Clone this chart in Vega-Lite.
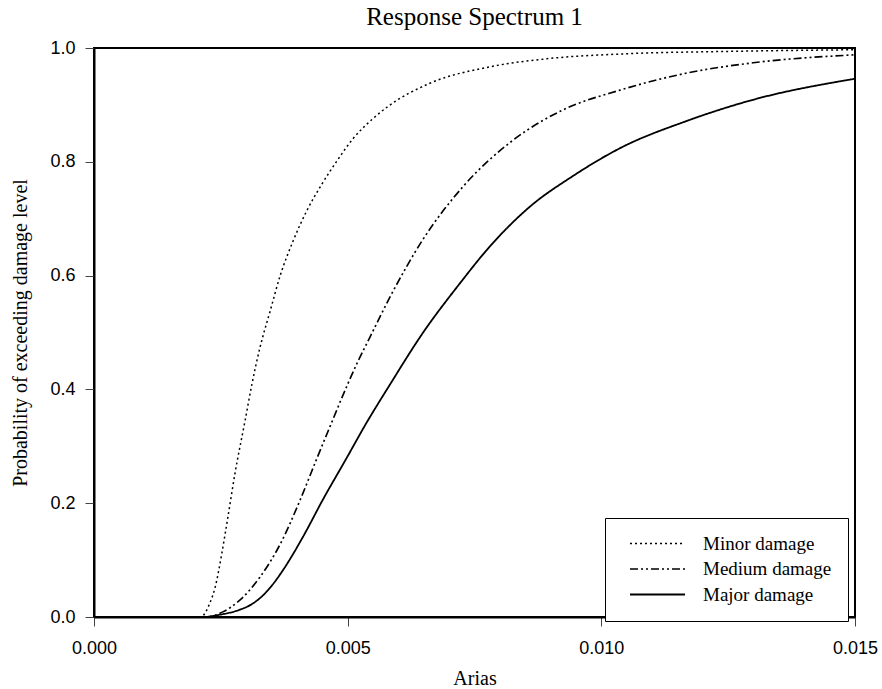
{
  "$schema": "https://vega.github.io/schema/vega-lite/v6.json",
  "autosize": "none",
  "width": 761,
  "height": 569,
  "padding": {"left": 94, "top": 48, "right": 27, "bottom": 72},
  "background": "white",
  "title": {
    "text": "Response Spectrum 1",
    "font": "Liberation Serif",
    "fontSize": 25,
    "fontWeight": "normal",
    "color": "black",
    "anchor": "middle",
    "frame": "group",
    "offset": 9
  },
  "config": {
    "view": {"stroke": "black", "strokeWidth": 2},
    "axis": {
      "grid": false,
      "domainColor": "black",
      "domainWidth": 2,
      "tickColor": "#444",
      "tickWidth": 1,
      "tickSize": 9,
      "labelFont": "Liberation Sans",
      "labelFontSize": 18,
      "labelColor": "black",
      "titleFont": "Liberation Serif",
      "titleFontSize": 20,
      "titleFontWeight": "normal",
      "titleColor": "black"
    }
  },
  "data": {
    "values": [
      {"series": "Minor damage", "x": 0, "y": 0},
      {"series": "Minor damage", "x": 0.001, "y": 0},
      {"series": "Minor damage", "x": 0.0021, "y": 0},
      {"series": "Minor damage", "x": 0.00229, "y": 0.026},
      {"series": "Minor damage", "x": 0.00239, "y": 0.053},
      {"series": "Minor damage", "x": 0.00252, "y": 0.112},
      {"series": "Minor damage", "x": 0.00264, "y": 0.176},
      {"series": "Minor damage", "x": 0.00278, "y": 0.253},
      {"series": "Minor damage", "x": 0.00298, "y": 0.346},
      {"series": "Minor damage", "x": 0.00311, "y": 0.408},
      {"series": "Minor damage", "x": 0.00327, "y": 0.473},
      {"series": "Minor damage", "x": 0.00347, "y": 0.537},
      {"series": "Minor damage", "x": 0.00367, "y": 0.600},
      {"series": "Minor damage", "x": 0.00393, "y": 0.662},
      {"series": "Minor damage", "x": 0.0042, "y": 0.715},
      {"series": "Minor damage", "x": 0.0045, "y": 0.762},
      {"series": "Minor damage", "x": 0.0048, "y": 0.803},
      {"series": "Minor damage", "x": 0.0051, "y": 0.840},
      {"series": "Minor damage", "x": 0.0055, "y": 0.876},
      {"series": "Minor damage", "x": 0.00579, "y": 0.897},
      {"series": "Minor damage", "x": 0.00662, "y": 0.938},
      {"series": "Minor damage", "x": 0.00781, "y": 0.967},
      {"series": "Minor damage", "x": 0.00892, "y": 0.981},
      {"series": "Minor damage", "x": 0.01053, "y": 0.990},
      {"series": "Minor damage", "x": 0.0125, "y": 0.994},
      {"series": "Minor damage", "x": 0.015, "y": 0.997},
      {"series": "Medium damage", "x": 0, "y": 0},
      {"series": "Medium damage", "x": 0.0015, "y": 0},
      {"series": "Medium damage", "x": 0.0022, "y": 0},
      {"series": "Medium damage", "x": 0.00254, "y": 0.009},
      {"series": "Medium damage", "x": 0.00288, "y": 0.030},
      {"series": "Medium damage", "x": 0.00327, "y": 0.070},
      {"series": "Medium damage", "x": 0.00367, "y": 0.128},
      {"series": "Medium damage", "x": 0.00406, "y": 0.205},
      {"series": "Medium damage", "x": 0.00439, "y": 0.278},
      {"series": "Medium damage", "x": 0.00469, "y": 0.343},
      {"series": "Medium damage", "x": 0.00498, "y": 0.405},
      {"series": "Medium damage", "x": 0.00518, "y": 0.445},
      {"series": "Medium damage", "x": 0.00544, "y": 0.492},
      {"series": "Medium damage", "x": 0.00585, "y": 0.565},
      {"series": "Medium damage", "x": 0.00648, "y": 0.663},
      {"series": "Medium damage", "x": 0.00727, "y": 0.756},
      {"series": "Medium damage", "x": 0.00826, "y": 0.838},
      {"series": "Medium damage", "x": 0.00924, "y": 0.891},
      {"series": "Medium damage", "x": 0.01037, "y": 0.926},
      {"series": "Medium damage", "x": 0.01169, "y": 0.956},
      {"series": "Medium damage", "x": 0.01299, "y": 0.974},
      {"series": "Medium damage", "x": 0.015, "y": 0.988},
      {"series": "Major damage", "x": 0, "y": 0},
      {"series": "Major damage", "x": 0.0015, "y": 0},
      {"series": "Major damage", "x": 0.00215, "y": 0},
      {"series": "Major damage", "x": 0.00248, "y": 0.004},
      {"series": "Major damage", "x": 0.00288, "y": 0.013},
      {"series": "Major damage", "x": 0.0031, "y": 0.022},
      {"series": "Major damage", "x": 0.00333, "y": 0.038},
      {"series": "Major damage", "x": 0.00353, "y": 0.058},
      {"series": "Major damage", "x": 0.00373, "y": 0.083},
      {"series": "Major damage", "x": 0.00412, "y": 0.141},
      {"series": "Major damage", "x": 0.00451, "y": 0.206},
      {"series": "Major damage", "x": 0.00499, "y": 0.281},
      {"series": "Major damage", "x": 0.00535, "y": 0.338},
      {"series": "Major damage", "x": 0.00583, "y": 0.408},
      {"series": "Major damage", "x": 0.00648, "y": 0.499},
      {"series": "Major damage", "x": 0.00720, "y": 0.585},
      {"series": "Major damage", "x": 0.00781, "y": 0.652},
      {"series": "Major damage", "x": 0.00859, "y": 0.721},
      {"series": "Major damage", "x": 0.00944, "y": 0.775},
      {"series": "Major damage", "x": 0.01037, "y": 0.824},
      {"series": "Major damage", "x": 0.01169, "y": 0.872},
      {"series": "Major damage", "x": 0.01299, "y": 0.909},
      {"series": "Major damage", "x": 0.015, "y": 0.946}
    ]
  },
  "mark": {"type": "line", "interpolate": "monotone", "color": "black", "clip": true},
  "encoding": {
    "x": {
      "field": "x",
      "type": "quantitative",
      "title": "Arias",
      "scale": {"domain": [0, 0.015], "nice": false, "zero": false},
      "axis": {"values": [0, 0.005, 0.01, 0.015], "format": ".3f", "labelFlush": false, "labelPadding": 13, "titlePadding": 11}
    },
    "y": {
      "field": "y",
      "type": "quantitative",
      "title": "Probability of exceeding damage level",
      "scale": {"domain": [0, 1], "nice": false},
      "axis": {"values": [0, 0.2, 0.4, 0.6, 0.8, 1.0], "format": ".1f", "labelFlush": false, "labelPadding": 10, "titlePadding": 19}
    },
    "detail": {"field": "series", "type": "nominal"},
    "strokeDash": {
      "field": "series",
      "type": "nominal",
      "scale": {
        "domain": ["Minor damage", "Medium damage", "Major damage"],
        "range": [[2, 3], [8, 3, 2, 3, 2, 3], [1, 0]]
      },
      "legend": {
        "title": null,
        "orient": "none",
        "legendX": 511,
        "legendY": 470,
        "padding": 16,
        "strokeColor": "black",
        "fillColor": "white",
        "cornerRadius": 0,
        "symbolType": "stroke",
        "symbolSize": 3025,
        "symbolOffset": 8,
        "symbolStrokeColor": "black",
        "labelFont": "Liberation Serif",
        "labelFontSize": 19,
        "labelColor": "black",
        "labelOffset": 17,
        "rowPadding": 5.5,
        "clipHeight": 19
      }
    },
    "strokeWidth": {
      "field": "series",
      "type": "nominal",
      "scale": {
        "domain": ["Minor damage", "Medium damage", "Major damage"],
        "range": [1.5, 1.8, 3]
      },
      "legend": null
    }
  }
}
